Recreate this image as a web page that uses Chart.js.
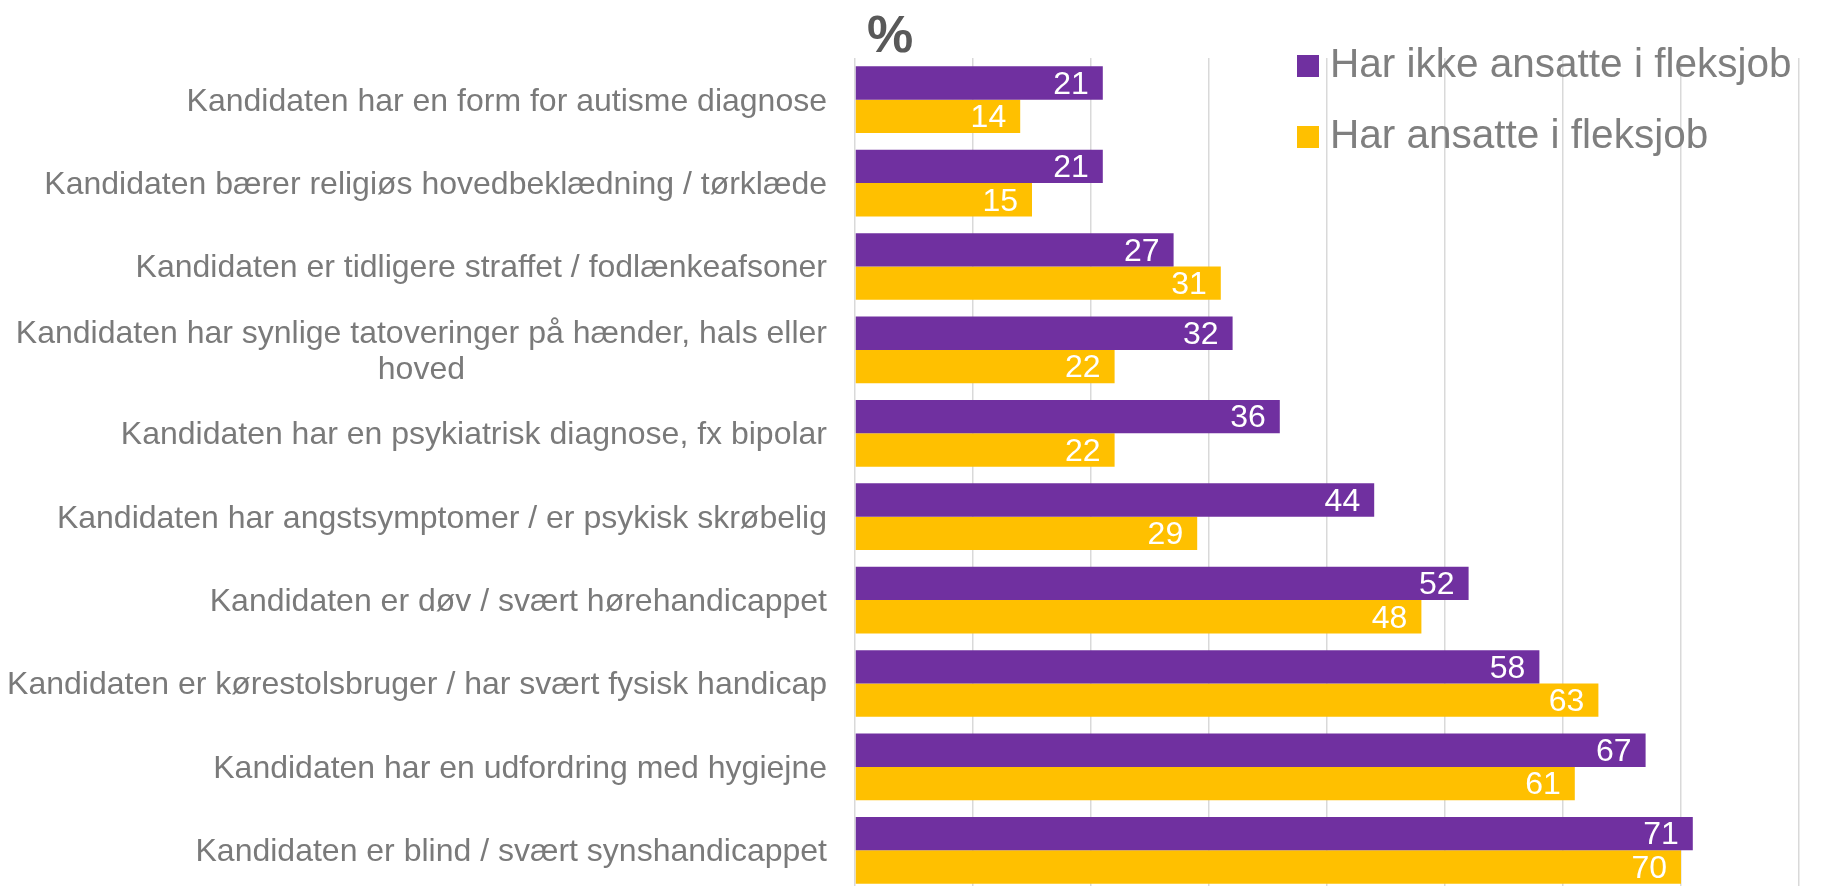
<!DOCTYPE html>
<html>
<head>
<meta charset="utf-8">
<script src="https://cdn.jsdelivr.net/npm/chart.js@4"></script>
<style>
  html, body { margin: 0; padding: 0; background: #fff; overflow: hidden; }
  #wrap { position: relative; width: 1821px; height: 900px; }
</style>
</head>
<body>
<div id="wrap"><canvas id="bar-chart"></canvas></div>
<script>
// Data
const categories = [
    'Kandidaten har en form for autisme diagnose',
    'Kandidaten bærer religiøs hovedbeklædning / tørklæde',
    'Kandidaten er tidligere straffet / fodlænkeafsoner',
    ['Kandidaten har synlige tatoveringer på hænder, hals eller', 'hoved'],
    'Kandidaten har en psykiatrisk diagnose, fx bipolar',
    'Kandidaten har angstsymptomer / er psykisk skrøbelig',
    'Kandidaten er døv / svært hørehandicappet',
    'Kandidaten er kørestolsbruger / har svært fysisk handicap',
    'Kandidaten har en udfordring med hygiejne',
    'Kandidaten er blind / svært synshandicappet'
];
const seriesNames = ['Har ikke ansatte i fleksjob', 'Har ansatte i fleksjob'];
const harIkkeFleksjob = [21, 21, 27, 32, 36, 44, 52, 58, 67, 71];
const harFleksjob = [14, 15, 31, 22, 22, 29, 48, 63, 61, 70];
const axisMax = 80;
const axisStep = 10;

const FONT = '"Liberation Sans", Arial, sans-serif';
const colors = ['#7030A0', '#FFC000'];

// category labels on the left, right aligned, wrapped lines centered
const categoryLabels = {
    id: 'categoryLabels',
    afterDraw(chart) {
        const ctx = chart.ctx;
        const yScale = chart.scales.y;
        const right = chart.chartArea.left - 28;
        ctx.save();
        ctx.font = '32px ' + FONT;
        ctx.fillStyle = '#7a7a7a';
        ctx.textAlign = 'center';
        ctx.textBaseline = 'middle';
        categories.forEach((label, i) => {
            const lines = Array.isArray(label) ? label : [label];
            const widest = Math.max(...lines.map(l => ctx.measureText(l).width));
            const cy = yScale.getPixelForValue(i) + 2;
            const lineH = 36;
            lines.forEach((line, j) => {
                const y = cy + (j - (lines.length - 1) / 2) * lineH;
                ctx.fillText(line, right - widest / 2, y);
            });
        });
        ctx.restore();
    }
};

// white value labels at the inner end of each bar
const valueLabels = {
    id: 'valueLabels',
    afterDatasetsDraw(chart) {
        const ctx = chart.ctx;
        ctx.save();
        ctx.font = '32px ' + FONT;
        ctx.fillStyle = '#ffffff';
        ctx.textAlign = 'right';
        ctx.textBaseline = 'middle';
        chart.data.datasets.forEach((ds, di) => {
            chart.getDatasetMeta(di).data.forEach((bar, i) => {
                ctx.fillText(ds.data[i], bar.x - 14, bar.y + 2);
            });
        });
        ctx.restore();
    }
};

// % sign and legend in the top right
const extras = {
    id: 'extras',
    afterDraw(chart) {
        const ctx = chart.ctx;
        ctx.save();
        ctx.font = 'bold 52px ' + FONT;
        ctx.fillStyle = '#595959';
        ctx.textAlign = 'left';
        ctx.textBaseline = 'alphabetic';
        ctx.fillText('%', 867, 52);

        ctx.font = '40.5px ' + FONT;
        ctx.textBaseline = 'middle';
        chart.data.datasets.forEach((ds, i) => {
            const cy = 66 + i * 71;
            ctx.fillStyle = ds.backgroundColor;
            ctx.fillRect(1297, cy - 11, 22, 22);
            ctx.fillStyle = '#7f7f7f';
            ctx.fillText(ds.label, 1330, cy);
        });
        ctx.restore();
    }
};

new Chart(document.getElementById('bar-chart'), {
    type: 'bar',
    data: {
        labels: categories,
        datasets: [
            { label: seriesNames[0], data: harIkkeFleksjob, backgroundColor: colors[0] },
            { label: seriesNames[1], data: harFleksjob, backgroundColor: colors[1] }
        ]
    },
    options: {
        indexAxis: 'y',
        responsive: true,
        maintainAspectRatio: false,
        animation: false,
        layout: { padding: { left: 855, top: 58, right: 22, bottom: 8 } },
        datasets: { bar: { categoryPercentage: 0.8, barPercentage: 1.0 } },
        plugins: {
            legend: { display: false },
            tooltip: { enabled: false }
        },
        scales: {
            x: {
                min: 0,
                max: axisMax,
                ticks: { display: false, stepSize: axisStep },
                grid: { color: '#d9d9d9', lineWidth: 1.5, drawTicks: false },
                border: { display: false }
            },
            y: {
                display: false
            }
        }
    },
    plugins: [categoryLabels, valueLabels, extras]
});
</script>
</body>
</html>
